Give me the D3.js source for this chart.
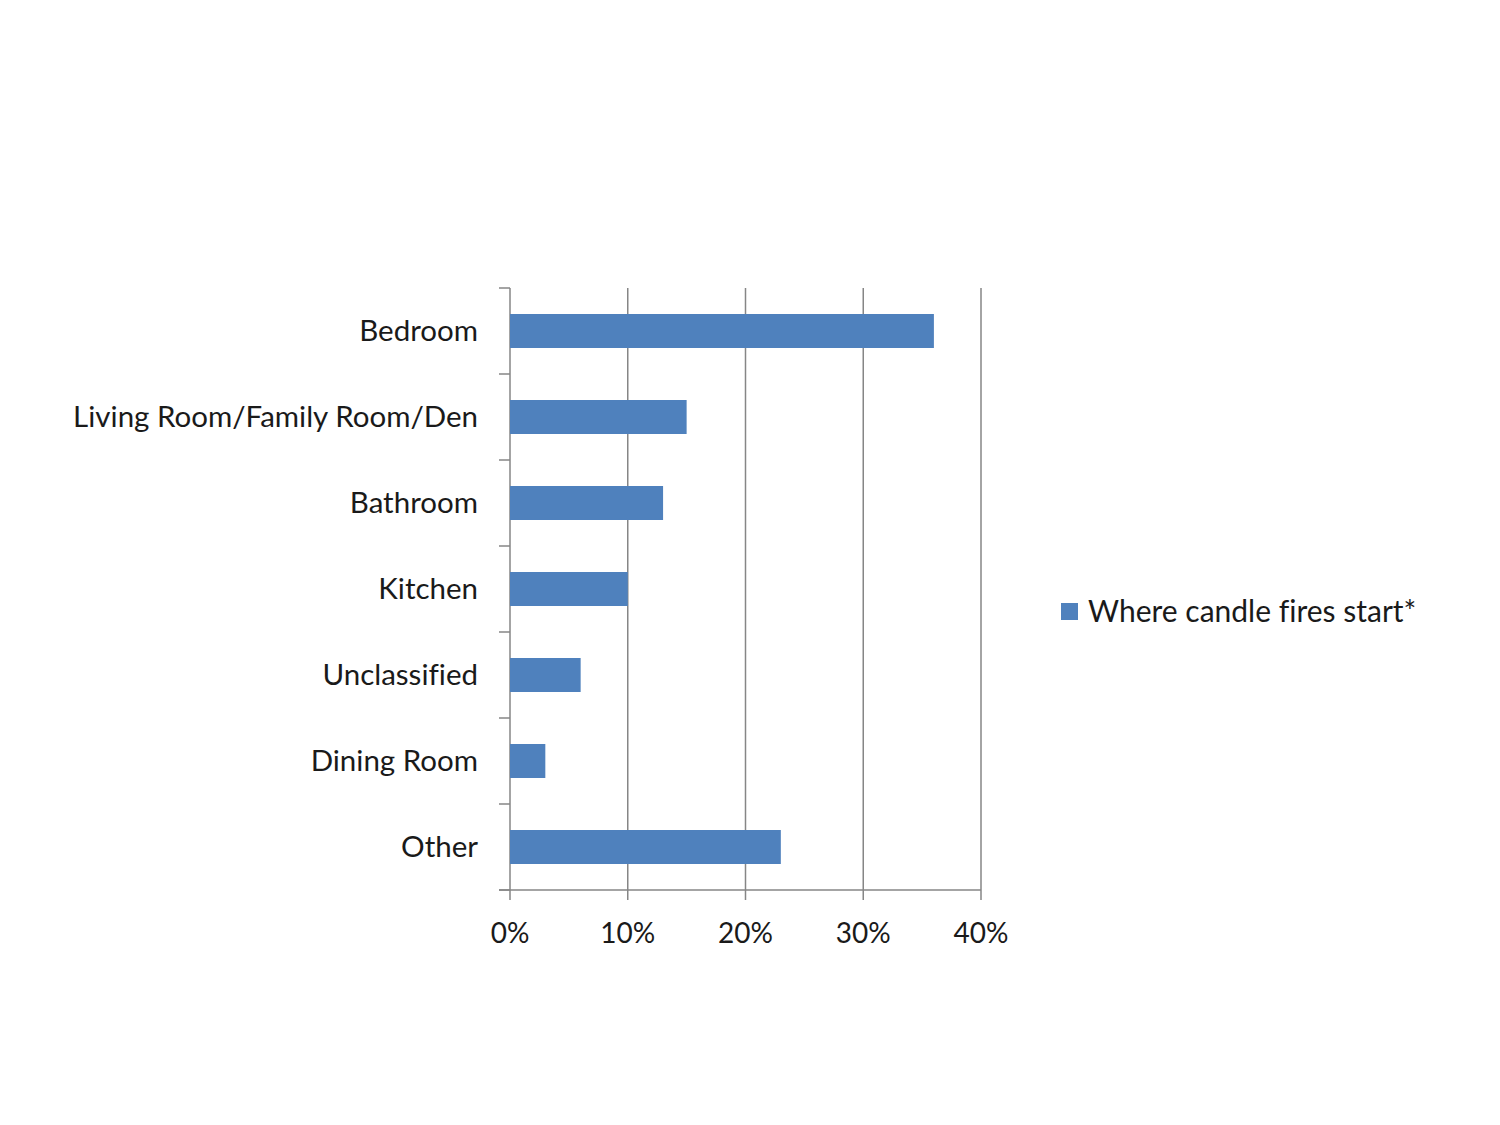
<!DOCTYPE html>
<html><head><meta charset="utf-8">
<script src="https://cdn.jsdelivr.net/npm/d3@7"></script>
<style>body{margin:0;background:#fff}svg{display:block}text{font-variant-ligatures:none}</style>
</head><body>
<script>
const categories = ["Bedroom","Living Room/Family Room/Den","Bathroom","Kitchen","Unclassified","Dining Room","Other"];
const values = [36,15,13,10,6,3,23];
const xTicks = [0,10,20,30,40];
const seriesName = "Where candle fires start*";

const W=1500,H=1125;
const svg=d3.select("body").append("svg").attr("width",W).attr("height",H);
const font="Lato, 'Open Sans', sans-serif";
const x=d3.scaleLinear().domain([0,40]).range([510,981]);
const yb=d3.scaleBand().domain(categories).range([288,890]);

// gridlines
svg.append("g").selectAll("line").data(xTicks.slice(1)).join("line")
  .attr("x1",d=>x(d)).attr("x2",d=>x(d)).attr("y1",288).attr("y2",900)
  .attr("stroke","#868686").attr("stroke-width",1.5);
// y axis line and ticks
svg.append("line").attr("x1",510).attr("x2",510).attr("y1",288).attr("y2",900).attr("stroke","#868686").attr("stroke-width",1.5);
const yTickPos = categories.map(c=>yb(c)).concat([890]);
svg.append("g").selectAll("line").data(yTickPos).join("line")
  .attr("x1",499).attr("x2",510).attr("y1",d=>d).attr("y2",d=>d).attr("stroke","#868686").attr("stroke-width",1.5);
// x axis line
svg.append("line").attr("x1",499).attr("x2",981).attr("y1",890).attr("y2",890).attr("stroke","#868686").attr("stroke-width",1.5);

// bars
svg.append("g").selectAll("rect").data(categories).join("rect")
  .attr("x",x(0)).attr("y",c=>yb(c)+26).attr("height",34)
  .attr("width",(c,i)=>x(values[i])-x(0)).attr("fill","#4f81bd");

// labels
svg.append("g").selectAll("text").data(categories).join("text")
  .attr("x",478).attr("y",c=>yb(c)+43).attr("dy","0.35em").attr("text-anchor","end")
  .attr("font-family",font).attr("font-size",29.5).attr("fill","#1a1a1a").text(c=>c);
svg.append("g").selectAll("text").data(xTicks).join("text")
  .attr("x",d=>x(d)).attr("y",943).attr("text-anchor","middle")
  .attr("font-family",font).attr("font-size",28).attr("fill","#1a1a1a").text(d=>d+"%");

// legend
svg.append("rect").attr("x",1061).attr("y",603).attr("width",17).attr("height",17).attr("fill","#4f81bd");
svg.append("text").attr("x",1088).attr("y",622).attr("font-family",font).attr("font-size",30).attr("fill","#1a1a1a").text(seriesName);
</script>
</body></html>
